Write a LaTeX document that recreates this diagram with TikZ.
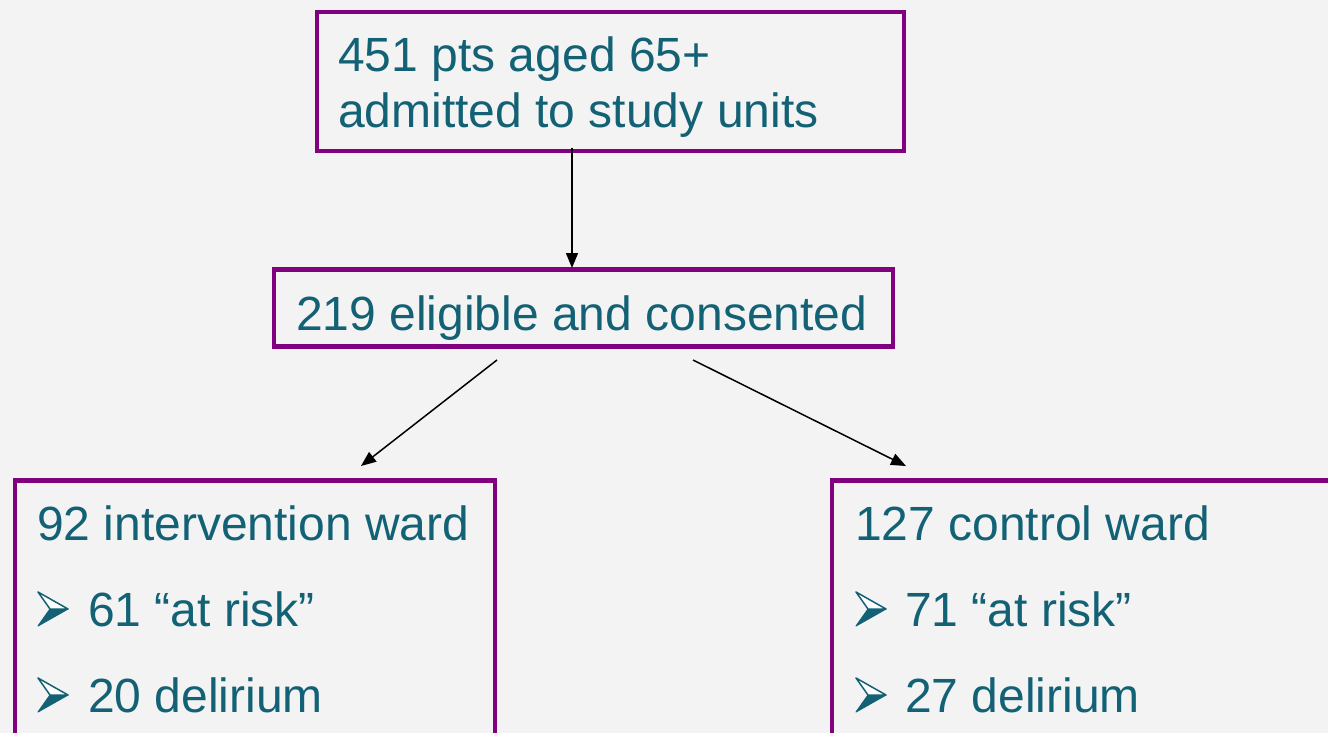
\documentclass[tikz,border=0pt]{standalone}
\usepackage{fontspec}
\setmainfont{Liberation Sans}
\usetikzlibrary{arrows.meta}
\definecolor{boxpurple}{RGB}{128,0,128}
\definecolor{textteal}{RGB}{18,97,117}
\definecolor{slidegray}{RGB}{243,243,243}
\tikzset{pointer/.pic={
  \filldraw[textteal, line width=1pt, line join=round] (2,0) -- (32,-17) -- (14,-17) -- cycle;
  \filldraw[draw=textteal, fill=white, line width=1.5pt, line join=round]
    (2,-34) -- (32,-17) -- (14,-17) -- cycle;}}

\begin{document}
\begin{tikzpicture}[x=1pt, y=-1pt,
  box/.style={draw=boxpurple, line width=4.5pt, rectangle, inner sep=0pt},
  txt/.style={anchor=base west, inner sep=0pt, text=textteal,
              font=\fontsize{48}{58}\selectfont},
  arr/.style={-{Triangle[length=15pt,width=12pt]}, line width=1.5pt}]
  \useasboundingbox (0,0) rectangle (1328,733);
  \clip (0,0) rectangle (1328,733);
  \fill[slidegray] (0,0) rectangle (1328,733);
  % the four boxes (the lower two run off the bottom)
  \node[box, minimum width=587pt, minimum height=139pt] (admit)   at (610.5,81.5) {};
  \node[box, minimum width=619pt, minimum height=77pt]  (consent) at (583.5,308)  {};
  \node[box, minimum width=480pt, minimum height=280pt] (interv)  at (255,620.5)  {};
  \node[box, minimum width=528pt, minimum height=280pt] (control) at (1096,620.5) {};
  % texts
  \node[txt] (admitA) at (338,72)  {451 pts aged 65+};
  \node[txt] (admitB) at (338,128) {admitted to study units};
  \node[txt] (consentA) at (296,330) {219 eligible and consented};
  \node[txt] (intervA) at (37,540) {92 intervention ward};
  \node[txt] (intervB) at (88,626) {61 “at risk”};
  \node[txt] (intervC) at (88,712) {20 delirium};
  \node[txt] (controlA) at (855,540) {127 control ward};
  \node[txt] (controlB) at (905,626) {71 “at risk”};
  \node[txt] (controlC) at (905,712) {27 delirium};
  % bullet arrowheads
  \pic at (36,626) {pointer};
  \pic at (36,712) {pointer};
  \pic at (854,626) {pointer};
  \pic at (854,712) {pointer};
  % arrow ends
  \coordinate (downA) at (572,148);
  \coordinate (downB) at (572,268);
  \coordinate (leftA) at (497,360);
  \coordinate (leftB) at (361,466);
  \coordinate (rightA) at (693,360);
  \coordinate (rightB) at (906,466);
  \draw[arr] (downA) -- (downB);
  \draw[arr] (leftA) -- (leftB);
  \draw[arr] (rightA) -- (rightB);
\end{tikzpicture}
\end{document}
